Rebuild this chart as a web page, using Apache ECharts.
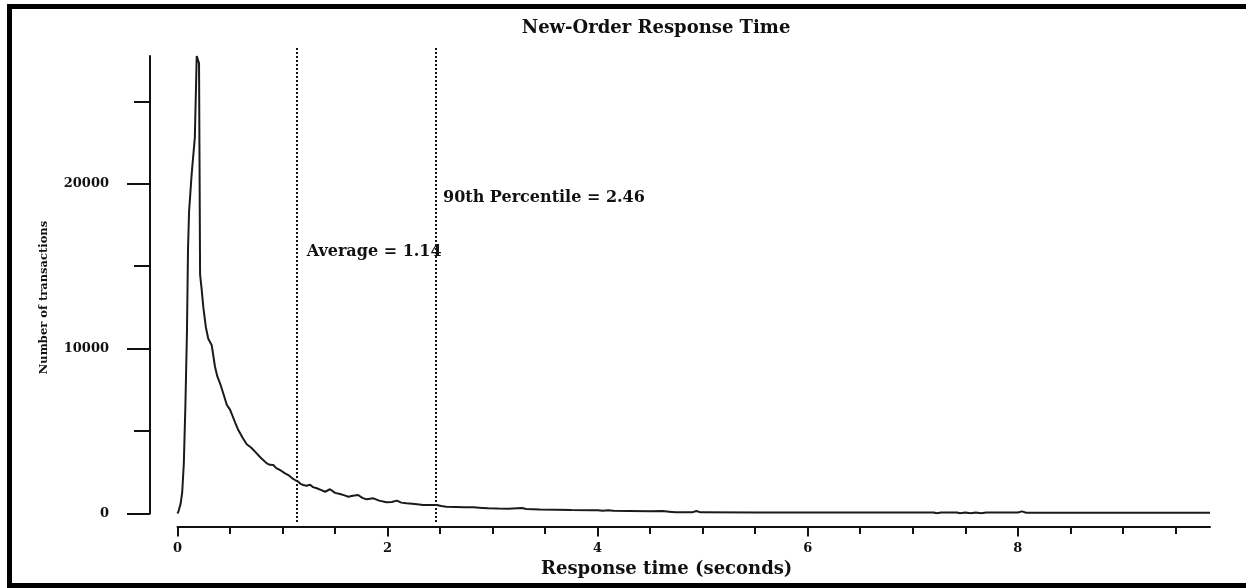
<!DOCTYPE html>
<html>
<head>
<meta charset="utf-8">
<script src="https://cdn.jsdelivr.net/npm/echarts@6/dist/echarts.min.js"></script>
<style>
html,body{margin:0;padding:0;background:#ffffff;}
#chart{width:1246px;height:588px;}
</style>
</head>
<body>
<div id="chart"></div>
<script>
// ---- data ----
const responseTime = [
  0.00, 0.01, 0.03, 0.045, 0.06, 0.075, 0.09, 0.10, 0.11, 0.135, 0.165, 0.183, 0.205, 0.21, 0.215,
  0.23, 0.246, 0.27, 0.293, 0.326, 0.357, 0.38, 0.405, 0.44, 0.469, 0.50, 0.516, 0.55, 0.579, 0.62,
  0.659, 0.70, 0.738, 0.79, 0.85, 0.88, 0.912, 0.94, 0.976, 1.02, 1.055, 1.09, 1.119, 1.15, 1.17,
  1.198, 1.23, 1.262, 1.29, 1.326, 1.37, 1.405, 1.452, 1.50, 1.548, 1.59, 1.627, 1.67, 1.72, 1.76,
  1.80, 1.865, 1.92, 1.99, 2.04, 2.088, 2.13, 2.18, 2.26, 2.34, 2.40, 2.47, 2.51, 2.56, 2.65,
  2.73, 2.82, 2.90, 2.96, 3.05, 3.15, 3.28, 3.32, 3.45, 3.60, 3.75, 3.95, 4.00, 4.05, 4.10,
  4.15, 4.30, 4.50, 4.62, 4.68, 4.74, 4.90, 4.94, 4.98, 5.50, 6.00, 6.50, 7.00, 7.20, 7.23,
  7.27, 7.42, 7.45, 7.50, 7.55, 7.60, 7.65, 7.70, 8.00, 8.04, 8.08, 9.00, 9.83
];
const transactions = [
  0, 150, 600, 1300, 3000, 6500, 11000, 16000, 18300, 20600, 22800, 27750, 27300, 21000, 14500,
  13600, 12500, 11300, 10600, 10200, 8900, 8300, 7900, 7200, 6600, 6300, 6050, 5500, 5060, 4600,
  4200, 4000, 3750, 3400, 3040, 2950, 2940, 2750, 2640, 2450, 2330, 2150, 2030, 1930, 1800,
  1730, 1680, 1740, 1600, 1530, 1420, 1320, 1470, 1250, 1180, 1100, 1020, 1080, 1120, 950,
  860, 920, 780, 680, 700, 780, 660, 620, 570, 520, 510, 520, 450, 410, 400,
  380, 375, 340, 315, 300, 290, 330, 270, 250, 230, 210, 190, 200, 170, 200,
  160, 150, 140, 150, 110, 70, 70, 150, 70, 60, 60, 60, 60, 60, 10,
  60, 60, 10, 60, 15, 60, 20, 60, 60, 130, 50, 50, 50
];
const yTickValues = [0, 5000, 10000, 15000, 20000, 25000];
const yLabelValues = [0, 10000, 20000];
const xTickValues = [0, 0.5, 1, 1.5, 2, 2.5, 3, 3.5, 4, 4.5, 5, 5.5, 6, 6.5, 7, 7.5, 8, 8.5, 9, 9.5];
const xLabelValues = [0, 2, 4, 6, 8];
const referenceLines = [1.14, 2.46];
const xMax = 9.83;
const yMax = 27750;
const chartTitle = 'New-Order Response Time';
const xTitle = 'Response time (seconds)';
const yTitle = 'Number of transactions';
const averageText = 'Average = 1.14';
const percentileText = '90th Percentile = 2.46';

// ---- chart ----
const seriesData = responseTime.map((t, i) => [t, transactions[i]]);
const FONT = '"DejaVu Serif", "Liberation Serif", serif';
const INK = '#111111';
const plain = v => String(v);

const chart = echarts.init(document.getElementById('chart'), null, { renderer: 'canvas' });
chart.setOption({
  animation: false,
  backgroundColor: '#ffffff',
  grid: [
    { left: 177.5, right: 36, top: 56, bottom: 74.5, containLabel: false, outerBoundsMode: 'none' },
    { left: 177.5, right: 36, top: 46, bottom: 66, containLabel: false, outerBoundsMode: 'none' }
  ],
  xAxis: [
    {
      gridIndex: 0, type: 'value', min: 0, max: xMax, position: 'bottom', offset: 13.5,
      axisLine: { show: true, onZero: false, lineStyle: { color: INK, width: 2 } },
      axisTick: { show: true, customValues: xTickValues, length: 7, lineStyle: { color: INK, width: 2 } },
      axisLabel: { show: false },
      splitLine: { show: false }
    },
    {
      gridIndex: 0, type: 'value', min: 0, max: xMax, position: 'bottom', offset: 13.5,
      axisLine: { show: false, onZero: false },
      axisTick: { show: true, customValues: xLabelValues, length: 9.5, lineStyle: { color: INK, width: 2 } },
      axisLabel: {
        show: true, customValues: xLabelValues, margin: 15, formatter: plain,
        color: INK, fontFamily: FONT, fontWeight: 'bold', fontSize: 13
      },
      splitLine: { show: false }
    },
    { gridIndex: 1, type: 'value', min: 0, max: xMax, show: false }
  ],
  yAxis: [
    {
      gridIndex: 0, type: 'value', min: 0, max: yMax, position: 'left', offset: 27.5,
      axisLine: { show: true, onZero: false, lineStyle: { color: INK, width: 2 } },
      axisTick: { show: true, customValues: yTickValues, length: 16, lineStyle: { color: INK, width: 2 } },
      axisLabel: { show: false },
      splitLine: { show: false }
    },
    {
      gridIndex: 0, type: 'value', min: 0, max: yMax, position: 'left', offset: 27.5,
      axisLine: { show: false, onZero: false },
      axisTick: { show: true, customValues: yLabelValues, length: 23, lineStyle: { color: INK, width: 2 } },
      axisLabel: {
        show: true, customValues: yLabelValues, margin: 41, formatter: plain,
        color: INK, fontFamily: FONT, fontWeight: 'bold', fontSize: 13
      },
      splitLine: { show: false }
    },
    { gridIndex: 1, type: 'value', min: 0, max: 1, show: false }
  ],
  series: [
    {
      type: 'line', xAxisIndex: 0, yAxisIndex: 0,
      data: seriesData,
      showSymbol: false, symbol: 'none',
      lineStyle: { color: '#1a1a1a', width: 2 },
      z: 5
    },
    {
      type: 'line', xAxisIndex: 2, yAxisIndex: 2, data: [],
      markLine: {
        silent: true, symbol: ['none', 'none'],
        label: { show: false },
        lineStyle: { color: INK, type: [2, 2], width: 2 },
        data: referenceLines.map(v => ({ xAxis: v }))
      }
    }
  ],
  graphic: [
    {
      type: 'rect', silent: true,
      shape: { x: 9.5, y: 6.5, width: 1300, height: 579 },
      style: { fill: 'none', stroke: '#000000', lineWidth: 5 }
    },
    {
      type: 'text', x: 521.7, y: 28,
      style: { text: chartTitle, textAlign: 'left', textVerticalAlign: 'middle',
               font: 'bold 18px ' + FONT, fill: INK }
    },
    {
      type: 'text', x: 541, y: 569,
      style: { text: xTitle, textAlign: 'left', textVerticalAlign: 'middle',
               font: 'bold 18px ' + FONT, fill: INK }
    },
    {
      type: 'text', x: 44.5, y: 297.5, rotation: Math.PI / 2,
      style: { text: yTitle, textAlign: 'center', textVerticalAlign: 'middle',
               font: 'bold 11.5px ' + FONT, fill: INK }
    },
    {
      type: 'text', x: 306.7, y: 251.7,
      style: { text: averageText, textAlign: 'left', textVerticalAlign: 'middle',
               font: 'bold 16px ' + FONT, fill: INK }
    },
    {
      type: 'text', x: 443, y: 198,
      style: { text: percentileText, textAlign: 'left', textVerticalAlign: 'middle',
               font: 'bold 16px ' + FONT, fill: INK }
    }
  ]
});
</script>
</body>
</html>
